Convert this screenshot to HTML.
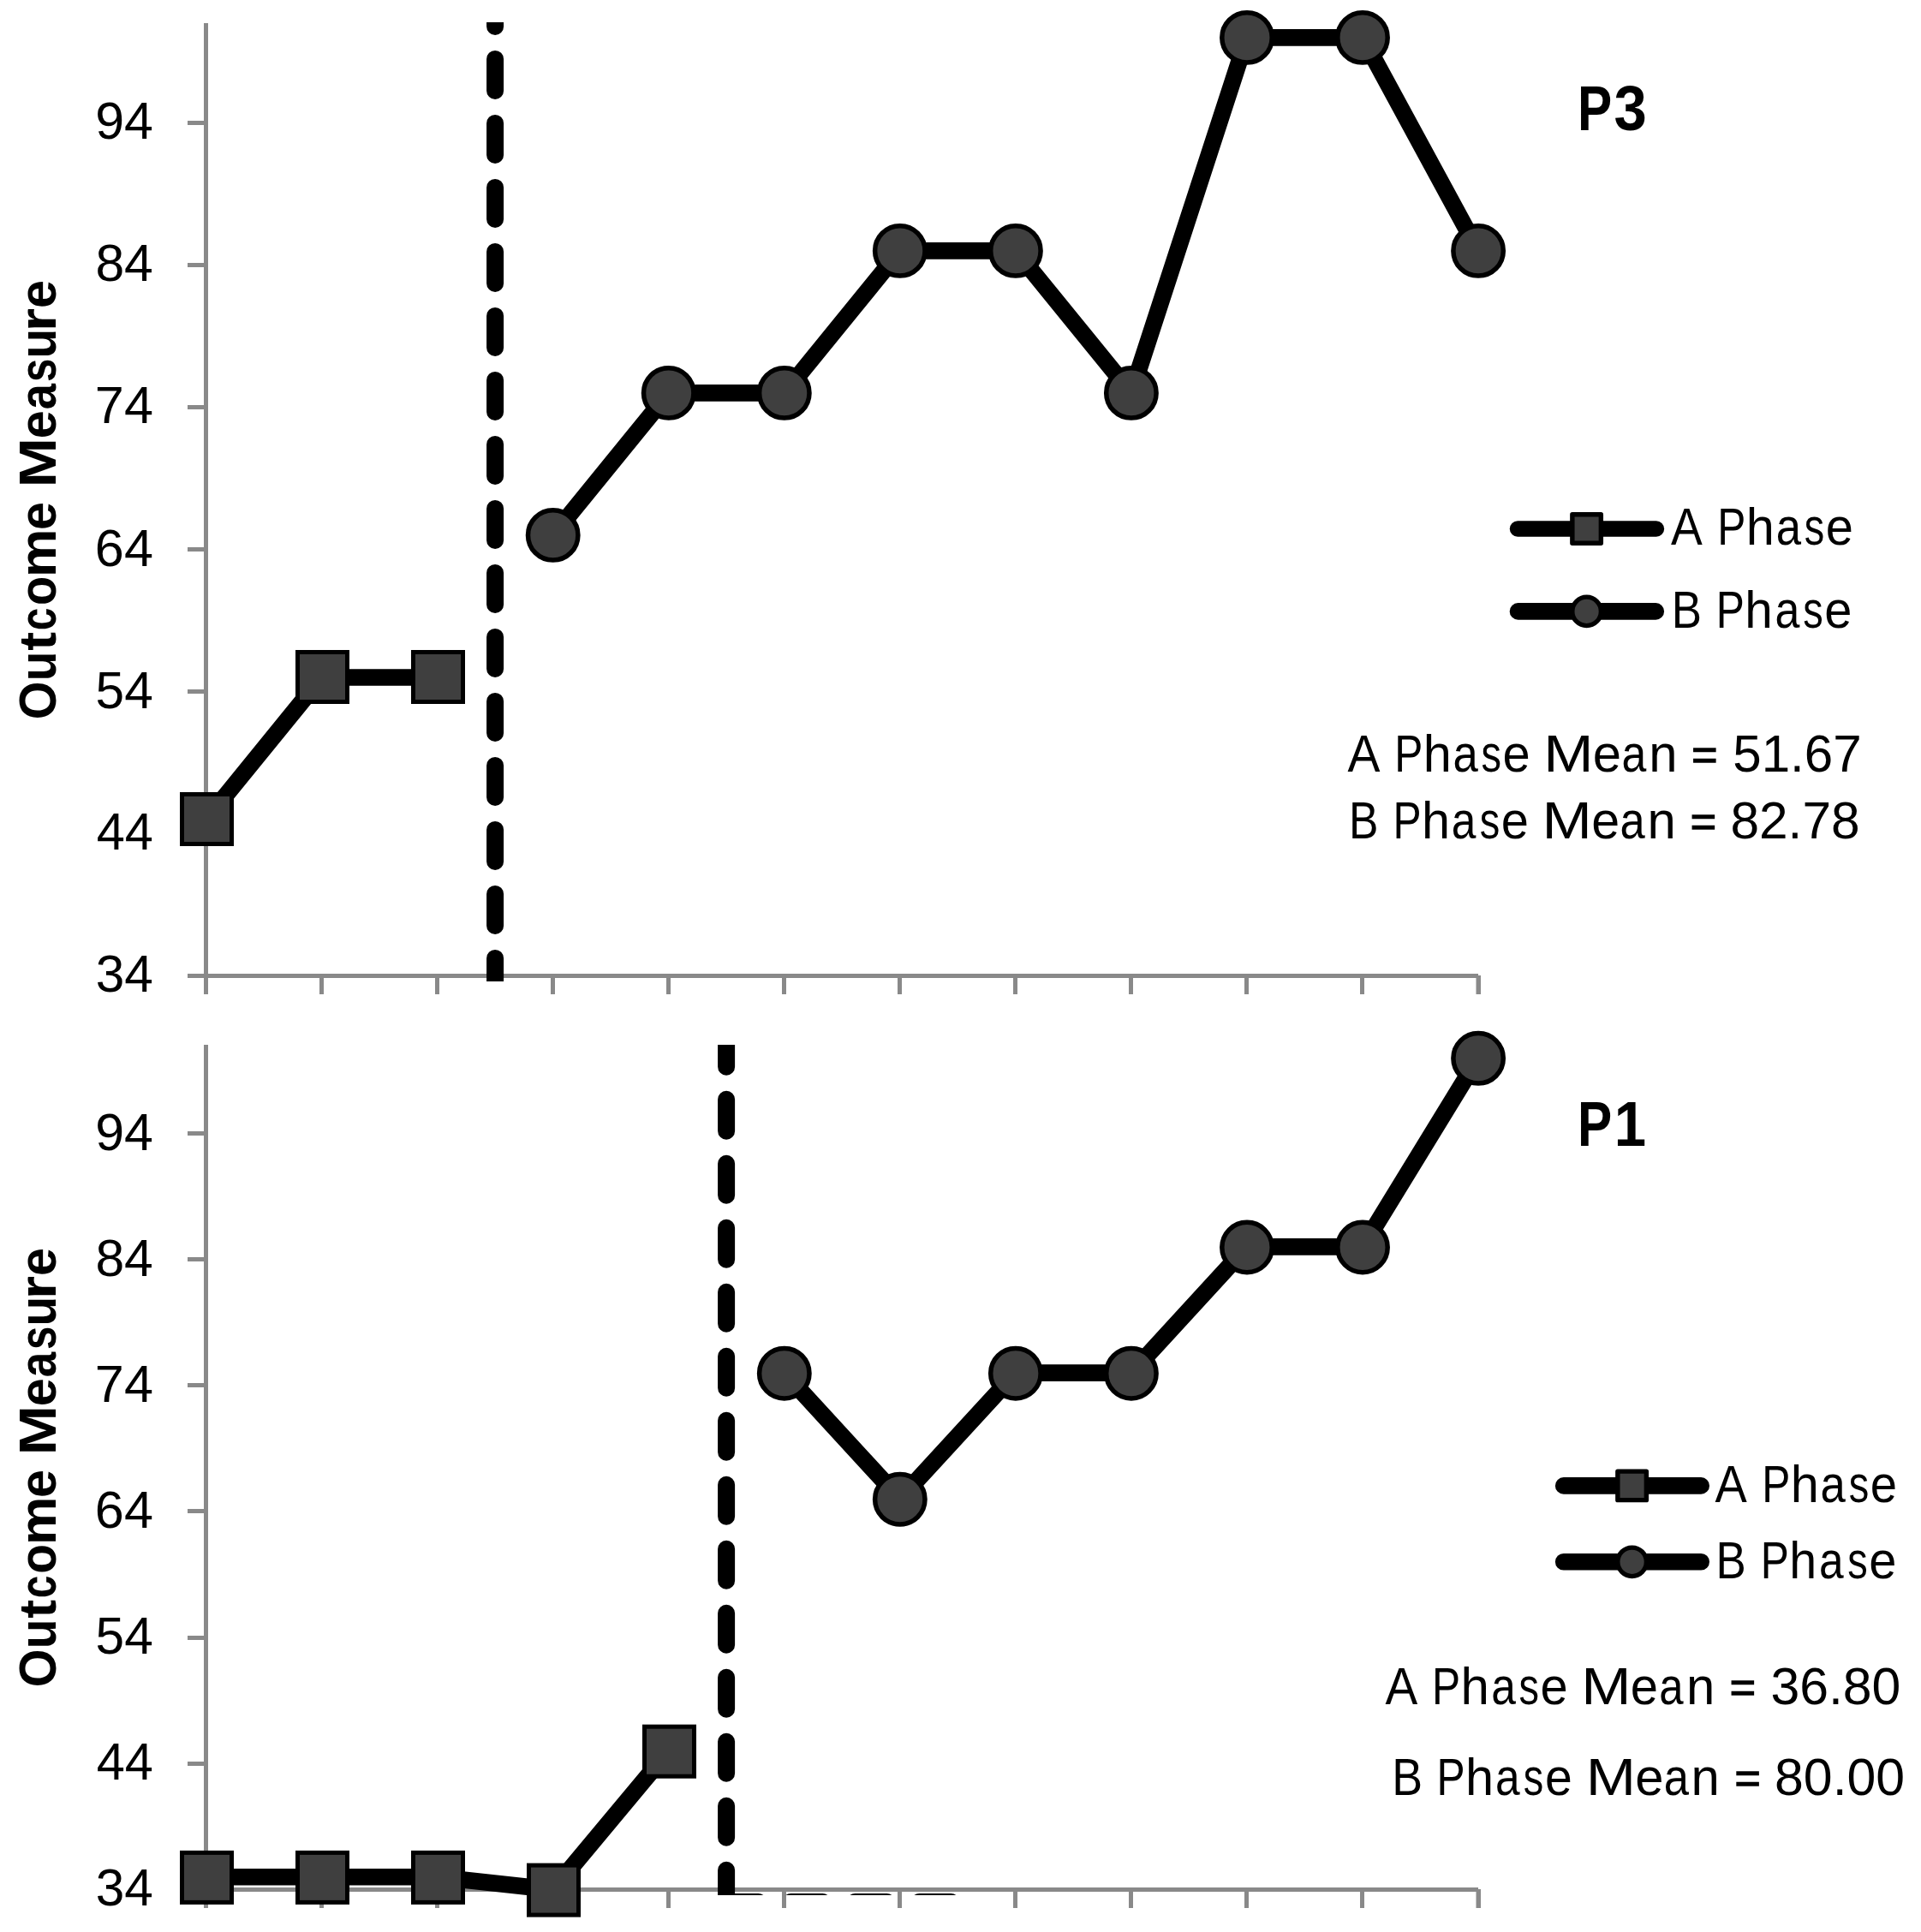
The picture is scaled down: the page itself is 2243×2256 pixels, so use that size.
<!DOCTYPE html>
<html><head><meta charset="utf-8"><title>Outcome Measure charts</title>
<style>
html,body{margin:0;padding:0;background:#fff;}
body{width:2243px;height:2256px;overflow:hidden;}
svg{display:block;}
text{font-family:"Liberation Sans",sans-serif;fill:#000;font-size:61px;}
.b{font-weight:bold;}
.t{font-weight:bold;font-size:73.8px;}
</style></head><body>
<svg width="2243" height="2256" viewBox="0 0 2243 2256">
<rect width="2243" height="2256" fill="#fff"/>
<defs>
<clipPath id="c1"><rect x="0" y="26" width="2243" height="1120"/></clipPath>
<clipPath id="c2"><rect x="0" y="1220" width="2243" height="993"/></clipPath>
</defs>

<rect x="238" y="27" width="5" height="1134" fill="#898989"/>
<rect x="219" y="1137" width="1507" height="5" fill="#898989"/>
<rect x="219" y="971" width="21" height="5" fill="#898989"/>
<rect x="219" y="805" width="21" height="5" fill="#898989"/>
<rect x="219" y="639" width="21" height="5" fill="#898989"/>
<rect x="219" y="473" width="21" height="5" fill="#898989"/>
<rect x="219" y="307" width="21" height="5" fill="#898989"/>
<rect x="219" y="141" width="21" height="5" fill="#898989"/>
<rect x="373" y="1137" width="5" height="24" fill="#898989"/>
<rect x="508" y="1137" width="5" height="24" fill="#898989"/>
<rect x="643" y="1137" width="5" height="24" fill="#898989"/>
<rect x="778" y="1137" width="5" height="24" fill="#898989"/>
<rect x="913" y="1137" width="5" height="24" fill="#898989"/>
<rect x="1048" y="1137" width="5" height="24" fill="#898989"/>
<rect x="1183" y="1137" width="5" height="24" fill="#898989"/>
<rect x="1318" y="1137" width="5" height="24" fill="#898989"/>
<rect x="1453" y="1137" width="5" height="24" fill="#898989"/>
<rect x="1588" y="1137" width="5" height="24" fill="#898989"/>
<rect x="1723.5" y="1139" width="5.5" height="22" fill="#898989"/>
<g clip-path="url(#c1)"><path d="M578.1 -6.1 V1200" stroke="#000" stroke-width="20" stroke-linecap="round" stroke-dasharray="37 38" fill="none"/></g>
<path d="M240.5 957.0 L375.6 791.0 L510.6 791.0" stroke="#000" stroke-width="19.6" fill="none" stroke-linejoin="round" stroke-linecap="butt"/>
<rect x="212.5" y="927.5" width="58" height="58" fill="#3f3f3f" stroke="#000" stroke-width="5"/>
<rect x="347.5" y="761.5" width="58" height="58" fill="#3f3f3f" stroke="#000" stroke-width="5"/>
<rect x="482.5" y="761.5" width="58" height="58" fill="#3f3f3f" stroke="#000" stroke-width="5"/>
<path d="M645.7 624.9 L780.7 458.9 L915.8 458.9 L1050.8 292.9 L1185.9 292.9 L1320.9 458.9 L1456.0 43.9 L1591.0 43.9 L1726.1 292.9" stroke="#000" stroke-width="19.6" fill="none" stroke-linejoin="round" stroke-linecap="butt"/>
<circle cx="645.7" cy="624.9" r="29.2" fill="#3f3f3f" stroke="#000" stroke-width="5.5"/>
<circle cx="780.7" cy="458.9" r="29.2" fill="#3f3f3f" stroke="#000" stroke-width="5.5"/>
<circle cx="915.8" cy="458.9" r="29.2" fill="#3f3f3f" stroke="#000" stroke-width="5.5"/>
<circle cx="1050.8" cy="292.9" r="29.2" fill="#3f3f3f" stroke="#000" stroke-width="5.5"/>
<circle cx="1185.9" cy="292.9" r="29.2" fill="#3f3f3f" stroke="#000" stroke-width="5.5"/>
<circle cx="1320.9" cy="458.9" r="29.2" fill="#3f3f3f" stroke="#000" stroke-width="5.5"/>
<circle cx="1456.0" cy="43.9" r="29.2" fill="#3f3f3f" stroke="#000" stroke-width="5.5"/>
<circle cx="1591.0" cy="43.9" r="29.2" fill="#3f3f3f" stroke="#000" stroke-width="5.5"/>
<circle cx="1726.1" cy="292.9" r="29.2" fill="#3f3f3f" stroke="#000" stroke-width="5.5"/>
<text y="1157.75"><tspan x="111.71" y="1157.75" textLength="67.16" lengthAdjust="spacingAndGlyphs">34</tspan></text>
<text y="992.30"><tspan x="112.63" y="992.30" textLength="66.21" lengthAdjust="spacingAndGlyphs">44</tspan></text>
<text y="826.80"><tspan x="111.58" y="826.80" textLength="67.29" lengthAdjust="spacingAndGlyphs">54</tspan></text>
<text y="660.90"><tspan x="110.88" y="660.90" textLength="68.01" lengthAdjust="spacingAndGlyphs">64</tspan></text>
<text y="493.70"><tspan x="110.88" y="493.70" textLength="68.01" lengthAdjust="spacingAndGlyphs">74</tspan></text>
<text y="327.90"><tspan x="111.39" y="327.90" textLength="67.49" lengthAdjust="spacingAndGlyphs">84</tspan></text>
<text y="161.90"><tspan x="111.14" y="161.90" textLength="67.75" lengthAdjust="spacingAndGlyphs">94</tspan></text>
<path d="M1772.1 617.5 H1933.8" stroke="#000" stroke-width="18.7" stroke-linecap="round"/>
<rect x="1835.85" y="600.75" width="33.5" height="33.5" fill="#3f3f3f" stroke="#000" stroke-width="5.4" stroke-linejoin="round"/>
<path d="M1772.5 713.9 H1933.3" stroke="#000" stroke-width="19.6" stroke-linecap="round"/>
<circle cx="1852.6" cy="713.9" r="16.75" fill="#3f3f3f" stroke="#000" stroke-width="5.3"/>
<text y="635.60"><tspan x="1951.00" y="635.60" textLength="33.77" lengthAdjust="spacingAndGlyphs">A</tspan> <tspan x="2005.33" y="635.60" textLength="33.10" lengthAdjust="spacingAndGlyphs">P</tspan><tspan x="2038.83" y="635.60" textLength="33.08" lengthAdjust="spacingAndGlyphs">h</tspan><tspan x="2073.65" y="635.60" textLength="29.33" lengthAdjust="spacingAndGlyphs">a</tspan><tspan x="2106.77" y="635.60" textLength="23.49" lengthAdjust="spacingAndGlyphs">s</tspan><tspan x="2131.76" y="635.60" textLength="32.19" lengthAdjust="spacingAndGlyphs">e</tspan></text>
<text y="732.80"><tspan x="1951.67" y="732.80" textLength="35.23" lengthAdjust="spacingAndGlyphs">B</tspan> <tspan x="2003.83" y="732.80" textLength="33.10" lengthAdjust="spacingAndGlyphs">P</tspan><tspan x="2037.20" y="732.80" textLength="32.55" lengthAdjust="spacingAndGlyphs">h</tspan><tspan x="2072.46" y="732.80" textLength="28.89" lengthAdjust="spacingAndGlyphs">a</tspan><tspan x="2105.27" y="732.80" textLength="23.49" lengthAdjust="spacingAndGlyphs">s</tspan><tspan x="2130.26" y="732.80" textLength="32.19" lengthAdjust="spacingAndGlyphs">e</tspan></text>
<text y="900.60"><tspan x="1573.40" y="900.60" textLength="34.83" lengthAdjust="spacingAndGlyphs">A</tspan> <tspan x="1628.13" y="900.60" textLength="33.10" lengthAdjust="spacingAndGlyphs">P</tspan><tspan x="1661.63" y="900.60" textLength="33.08" lengthAdjust="spacingAndGlyphs">h</tspan><tspan x="1696.45" y="900.60" textLength="29.33" lengthAdjust="spacingAndGlyphs">a</tspan><tspan x="1729.57" y="900.60" textLength="23.49" lengthAdjust="spacingAndGlyphs">s</tspan><tspan x="1754.56" y="900.60" textLength="32.19" lengthAdjust="spacingAndGlyphs">e</tspan> <tspan x="1802.26" y="900.60" textLength="58.31" lengthAdjust="spacingAndGlyphs">M</tspan><tspan x="1859.82" y="900.60" textLength="33.27" lengthAdjust="spacingAndGlyphs">e</tspan><tspan x="1893.42" y="900.60" textLength="28.79" lengthAdjust="spacingAndGlyphs">a</tspan><tspan x="1925.14" y="900.60" textLength="33.26" lengthAdjust="spacingAndGlyphs">n</tspan> <tspan x="1975.37" y="897.90" textLength="30.21" lengthAdjust="spacingAndGlyphs" font-size="49.6" stroke="#000" stroke-width="1.4">=</tspan> <tspan x="2023.30" y="900.60" textLength="150.35" lengthAdjust="spacingAndGlyphs">51.67</tspan></text>
<text y="978.50"><tspan x="1575.02" y="978.50" textLength="34.43" lengthAdjust="spacingAndGlyphs">B</tspan> <tspan x="1626.43" y="978.50" textLength="33.10" lengthAdjust="spacingAndGlyphs">P</tspan><tspan x="1659.93" y="978.50" textLength="33.08" lengthAdjust="spacingAndGlyphs">h</tspan><tspan x="1694.80" y="978.50" textLength="28.62" lengthAdjust="spacingAndGlyphs">a</tspan><tspan x="1727.87" y="978.50" textLength="23.49" lengthAdjust="spacingAndGlyphs">s</tspan><tspan x="1752.86" y="978.50" textLength="32.19" lengthAdjust="spacingAndGlyphs">e</tspan> <tspan x="1800.56" y="978.50" textLength="58.31" lengthAdjust="spacingAndGlyphs">M</tspan><tspan x="1858.15" y="978.50" textLength="32.90" lengthAdjust="spacingAndGlyphs">e</tspan><tspan x="1891.55" y="978.50" textLength="29.23" lengthAdjust="spacingAndGlyphs">a</tspan><tspan x="1923.44" y="978.50" textLength="33.26" lengthAdjust="spacingAndGlyphs">n</tspan> <tspan x="1973.86" y="975.80" textLength="30.25" lengthAdjust="spacingAndGlyphs" font-size="49.6" stroke="#000" stroke-width="1.4">=</tspan> <tspan x="2020.40" y="978.50" textLength="151.22" lengthAdjust="spacingAndGlyphs">82.78</tspan></text>
<text class="t" y="151.80"><tspan x="1841.96" y="151.80" textLength="40.18" lengthAdjust="spacingAndGlyphs">P</tspan><tspan x="1884.42" y="151.80" textLength="38.27" lengthAdjust="spacingAndGlyphs">3</tspan></text>
<text class="b" transform="translate(65.1 0) rotate(-90)" y="0.00"><tspan x="-840.16" y="0.00" textLength="44.77" lengthAdjust="spacingAndGlyphs">O</tspan><tspan x="-795.23" y="0.00" textLength="34.78" lengthAdjust="spacingAndGlyphs">u</tspan><tspan x="-759.89" y="0.00" textLength="21.88" lengthAdjust="spacingAndGlyphs">t</tspan><tspan x="-736.32" y="0.00" textLength="26.70" lengthAdjust="spacingAndGlyphs">c</tspan><tspan x="-706.98" y="0.00" textLength="34.17" lengthAdjust="spacingAndGlyphs">o</tspan><tspan x="-674.21" y="0.00" textLength="56.78" lengthAdjust="spacingAndGlyphs">m</tspan><tspan x="-619.01" y="0.00" textLength="32.93" lengthAdjust="spacingAndGlyphs">e</tspan> <tspan x="-569.60" y="0.00" textLength="58.39" lengthAdjust="spacingAndGlyphs">M</tspan><tspan x="-512.22" y="0.00" textLength="33.05" lengthAdjust="spacingAndGlyphs">e</tspan><tspan x="-478.37" y="0.00" textLength="30.16" lengthAdjust="spacingAndGlyphs">a</tspan><tspan x="-446.02" y="0.00" textLength="27.34" lengthAdjust="spacingAndGlyphs">s</tspan><tspan x="-418.43" y="0.00" textLength="34.78" lengthAdjust="spacingAndGlyphs">u</tspan><tspan x="-387.23" y="0.00" textLength="27.29" lengthAdjust="spacingAndGlyphs">r</tspan><tspan x="-360.02" y="0.00" textLength="33.05" lengthAdjust="spacingAndGlyphs">e</tspan></text>
<rect x="238" y="1220" width="5" height="1008" fill="#898989"/>
<rect x="219" y="2204" width="1507" height="5" fill="#898989"/>
<rect x="219" y="2057" width="21" height="5" fill="#898989"/>
<rect x="219" y="1910" width="21" height="5" fill="#898989"/>
<rect x="219" y="1762" width="21" height="5" fill="#898989"/>
<rect x="219" y="1615" width="21" height="5" fill="#898989"/>
<rect x="219" y="1468" width="21" height="5" fill="#898989"/>
<rect x="219" y="1321" width="21" height="5" fill="#898989"/>
<rect x="373" y="2204" width="5" height="24" fill="#898989"/>
<rect x="508" y="2204" width="5" height="24" fill="#898989"/>
<rect x="643" y="2204" width="5" height="24" fill="#898989"/>
<rect x="778" y="2204" width="5" height="24" fill="#898989"/>
<rect x="913" y="2204" width="5" height="24" fill="#898989"/>
<rect x="1048" y="2204" width="5" height="24" fill="#898989"/>
<rect x="1183" y="2204" width="5" height="24" fill="#898989"/>
<rect x="1318" y="2204" width="5" height="24" fill="#898989"/>
<rect x="1453" y="2204" width="5" height="24" fill="#898989"/>
<rect x="1588" y="2204" width="5" height="24" fill="#898989"/>
<rect x="1723.5" y="2206" width="5.5" height="22" fill="#898989"/>
<g clip-path="url(#c2)"><path d="M848.1 1133.75 V2221" stroke="#000" stroke-width="20" stroke-linecap="round" stroke-dasharray="37 38" fill="none"/><path d="M848.4 2221 H1130" stroke="#000" stroke-width="20" stroke-linecap="round" stroke-dasharray="37 38" fill="none"/></g>
<path d="M240.5 2191.7 L375.6 2191.7 L510.6 2191.7 L645.7 2206.4 L780.7 2044.5" stroke="#000" stroke-width="19.6" fill="none" stroke-linejoin="round" stroke-linecap="butt"/>
<rect x="212.5" y="2163.4" width="58" height="58" fill="#3f3f3f" stroke="#000" stroke-width="5"/>
<rect x="347.5" y="2163.4" width="58" height="58" fill="#3f3f3f" stroke="#000" stroke-width="5"/>
<rect x="482.5" y="2163.4" width="58" height="58" fill="#3f3f3f" stroke="#000" stroke-width="5"/>
<rect x="617.5" y="2178.1" width="58" height="58" fill="#3f3f3f" stroke="#000" stroke-width="5"/>
<rect x="752.5" y="2016.2" width="58" height="58" fill="#3f3f3f" stroke="#000" stroke-width="5"/>
<path d="M915.8 1603.1 L1050.8 1750.2 L1185.9 1603.1 L1320.9 1603.1 L1456.0 1455.9 L1591.0 1455.9 L1726.1 1235.2" stroke="#000" stroke-width="19.6" fill="none" stroke-linejoin="round" stroke-linecap="butt"/>
<circle cx="915.8" cy="1603.7" r="29.2" fill="#3f3f3f" stroke="#000" stroke-width="5.5"/>
<circle cx="1050.8" cy="1750.8" r="29.2" fill="#3f3f3f" stroke="#000" stroke-width="5.5"/>
<circle cx="1185.9" cy="1603.7" r="29.2" fill="#3f3f3f" stroke="#000" stroke-width="5.5"/>
<circle cx="1320.9" cy="1603.7" r="29.2" fill="#3f3f3f" stroke="#000" stroke-width="5.5"/>
<circle cx="1456.0" cy="1456.5" r="29.2" fill="#3f3f3f" stroke="#000" stroke-width="5.5"/>
<circle cx="1591.0" cy="1456.5" r="29.2" fill="#3f3f3f" stroke="#000" stroke-width="5.5"/>
<circle cx="1726.1" cy="1235.8" r="29.2" fill="#3f3f3f" stroke="#000" stroke-width="5.5"/>
<text y="2224.75"><tspan x="111.71" y="2224.75" textLength="67.16" lengthAdjust="spacingAndGlyphs">34</tspan></text>
<text y="2077.80"><tspan x="112.63" y="2077.80" textLength="66.21" lengthAdjust="spacingAndGlyphs">44</tspan></text>
<text y="1930.90"><tspan x="111.58" y="1930.90" textLength="67.29" lengthAdjust="spacingAndGlyphs">54</tspan></text>
<text y="1783.90"><tspan x="110.88" y="1783.90" textLength="68.01" lengthAdjust="spacingAndGlyphs">64</tspan></text>
<text y="1636.90"><tspan x="110.88" y="1636.90" textLength="68.01" lengthAdjust="spacingAndGlyphs">74</tspan></text>
<text y="1489.90"><tspan x="111.39" y="1489.90" textLength="67.49" lengthAdjust="spacingAndGlyphs">84</tspan></text>
<text y="1342.90"><tspan x="111.14" y="1342.90" textLength="67.75" lengthAdjust="spacingAndGlyphs">94</tspan></text>
<path d="M1825.7 1734.9 H1986.2" stroke="#000" stroke-width="19.6" stroke-linecap="round"/>
<rect x="1888.85" y="1718.15" width="33.5" height="33.5" fill="#3f3f3f" stroke="#000" stroke-width="5.4" stroke-linejoin="round"/>
<path d="M1825.7 1823.8 H1986.2" stroke="#000" stroke-width="19.6" stroke-linecap="round"/>
<circle cx="1905.6" cy="1823.8" r="16.75" fill="#3f3f3f" stroke="#000" stroke-width="5.3"/>
<text y="1753.70"><tspan x="2002.50" y="1753.70" textLength="34.21" lengthAdjust="spacingAndGlyphs">A</tspan> <tspan x="2057.23" y="1753.70" textLength="33.10" lengthAdjust="spacingAndGlyphs">P</tspan><tspan x="2090.73" y="1753.70" textLength="33.08" lengthAdjust="spacingAndGlyphs">h</tspan><tspan x="2125.55" y="1753.70" textLength="29.33" lengthAdjust="spacingAndGlyphs">a</tspan><tspan x="2158.67" y="1753.70" textLength="23.49" lengthAdjust="spacingAndGlyphs">s</tspan><tspan x="2183.73" y="1753.70" textLength="31.28" lengthAdjust="spacingAndGlyphs">e</tspan></text>
<text y="1842.70"><tspan x="2003.57" y="1842.70" textLength="35.23" lengthAdjust="spacingAndGlyphs">B</tspan> <tspan x="2055.73" y="1842.70" textLength="33.10" lengthAdjust="spacingAndGlyphs">P</tspan><tspan x="2089.37" y="1842.70" textLength="31.93" lengthAdjust="spacingAndGlyphs">h</tspan><tspan x="2124.02" y="1842.70" textLength="28.62" lengthAdjust="spacingAndGlyphs">a</tspan><tspan x="2157.17" y="1842.70" textLength="23.49" lengthAdjust="spacingAndGlyphs">s</tspan><tspan x="2182.16" y="1842.70" textLength="32.19" lengthAdjust="spacingAndGlyphs">e</tspan></text>
<text y="1989.80"><tspan x="1617.60" y="1989.80" textLength="34.62" lengthAdjust="spacingAndGlyphs">A</tspan> <tspan x="1672.03" y="1989.80" textLength="33.10" lengthAdjust="spacingAndGlyphs">P</tspan><tspan x="1705.49" y="1989.80" textLength="33.39" lengthAdjust="spacingAndGlyphs">h</tspan><tspan x="1741.16" y="1989.80" textLength="28.62" lengthAdjust="spacingAndGlyphs">a</tspan><tspan x="1773.47" y="1989.80" textLength="23.49" lengthAdjust="spacingAndGlyphs">s</tspan><tspan x="1798.46" y="1989.80" textLength="32.19" lengthAdjust="spacingAndGlyphs">e</tspan> <tspan x="1846.16" y="1989.80" textLength="58.31" lengthAdjust="spacingAndGlyphs">M</tspan><tspan x="1903.80" y="1989.80" textLength="32.26" lengthAdjust="spacingAndGlyphs">e</tspan><tspan x="1937.16" y="1989.80" textLength="28.32" lengthAdjust="spacingAndGlyphs">a</tspan><tspan x="1969.04" y="1989.80" textLength="33.26" lengthAdjust="spacingAndGlyphs">n</tspan> <tspan x="2019.87" y="1987.10" textLength="30.21" lengthAdjust="spacingAndGlyphs" font-size="49.6" stroke="#000" stroke-width="1.4">=</tspan> <tspan x="2067.39" y="1989.80" textLength="152.00" lengthAdjust="spacingAndGlyphs">36.80</tspan></text>
<text y="2096.00"><tspan x="1625.30" y="2096.00" textLength="35.83" lengthAdjust="spacingAndGlyphs">B</tspan> <tspan x="1677.53" y="2096.00" textLength="33.10" lengthAdjust="spacingAndGlyphs">P</tspan><tspan x="1711.03" y="2096.00" textLength="33.08" lengthAdjust="spacingAndGlyphs">h</tspan><tspan x="1745.90" y="2096.00" textLength="28.62" lengthAdjust="spacingAndGlyphs">a</tspan><tspan x="1778.68" y="2096.00" textLength="23.49" lengthAdjust="spacingAndGlyphs">s</tspan><tspan x="1803.94" y="2096.00" textLength="31.81" lengthAdjust="spacingAndGlyphs">e</tspan> <tspan x="1851.66" y="2096.00" textLength="58.31" lengthAdjust="spacingAndGlyphs">M</tspan><tspan x="1909.22" y="2096.00" textLength="33.27" lengthAdjust="spacingAndGlyphs">e</tspan><tspan x="1942.65" y="2096.00" textLength="29.23" lengthAdjust="spacingAndGlyphs">a</tspan><tspan x="1974.54" y="2096.00" textLength="33.26" lengthAdjust="spacingAndGlyphs">n</tspan> <tspan x="2025.57" y="2093.30" textLength="30.21" lengthAdjust="spacingAndGlyphs" font-size="49.6" stroke="#000" stroke-width="1.4">=</tspan> <tspan x="2072.09" y="2096.00" textLength="152.01" lengthAdjust="spacingAndGlyphs">80.00</tspan></text>
<text class="t" y="1337.70"><tspan x="1841.96" y="1337.70" textLength="40.18" lengthAdjust="spacingAndGlyphs">P</tspan><tspan x="1884.67" y="1337.70" textLength="37.32" lengthAdjust="spacingAndGlyphs">1</tspan></text>
<text class="b" transform="translate(65.1 0) rotate(-90)" y="0.00"><tspan x="-1970.16" y="0.00" textLength="44.77" lengthAdjust="spacingAndGlyphs">O</tspan><tspan x="-1925.23" y="0.00" textLength="34.78" lengthAdjust="spacingAndGlyphs">u</tspan><tspan x="-1889.89" y="0.00" textLength="21.88" lengthAdjust="spacingAndGlyphs">t</tspan><tspan x="-1866.32" y="0.00" textLength="26.70" lengthAdjust="spacingAndGlyphs">c</tspan><tspan x="-1837.72" y="0.00" textLength="34.84" lengthAdjust="spacingAndGlyphs">o</tspan><tspan x="-1804.21" y="0.00" textLength="56.78" lengthAdjust="spacingAndGlyphs">m</tspan><tspan x="-1749.01" y="0.00" textLength="32.93" lengthAdjust="spacingAndGlyphs">e</tspan> <tspan x="-1699.60" y="0.00" textLength="58.39" lengthAdjust="spacingAndGlyphs">M</tspan><tspan x="-1642.22" y="0.00" textLength="33.05" lengthAdjust="spacingAndGlyphs">e</tspan><tspan x="-1608.34" y="0.00" textLength="29.49" lengthAdjust="spacingAndGlyphs">a</tspan><tspan x="-1576.02" y="0.00" textLength="27.34" lengthAdjust="spacingAndGlyphs">s</tspan><tspan x="-1548.43" y="0.00" textLength="34.78" lengthAdjust="spacingAndGlyphs">u</tspan><tspan x="-1517.23" y="0.00" textLength="27.29" lengthAdjust="spacingAndGlyphs">r</tspan><tspan x="-1490.02" y="0.00" textLength="33.05" lengthAdjust="spacingAndGlyphs">e</tspan></text>
</svg></body></html>
